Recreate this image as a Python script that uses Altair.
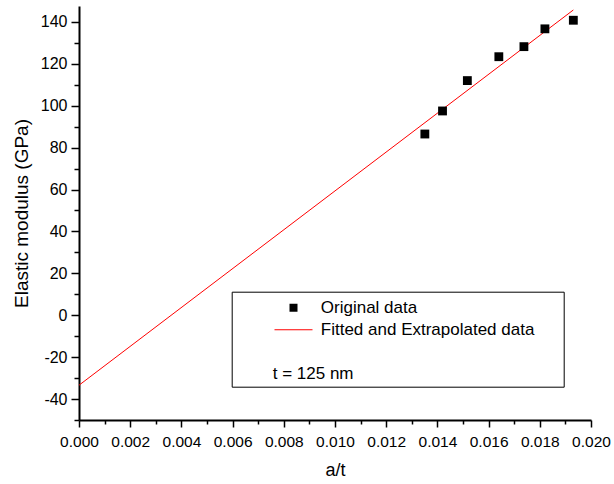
import altair as alt
import pandas as pd

# ---- data ----
x_data = [0.01351, 0.01420, 0.01517, 0.01640, 0.01738, 0.01820, 0.01931]
y_data = [86.5, 97.5, 112.0, 123.4, 128.2, 136.7, 140.8]
fit_x = [0.0, 0.01931]
fit_y = [-33.4, 145.7]
series_names = ["Original data", "Fitted and Extrapolated data"]
legend_note = "t = 125 nm"
x_ticks = [0.000, 0.001, 0.002, 0.003, 0.004, 0.005, 0.006, 0.007, 0.008, 0.009, 0.010,
           0.011, 0.012, 0.013, 0.014, 0.015, 0.016, 0.017, 0.018, 0.019, 0.020]
y_ticks = [-50, -40, -30, -20, -10, 0, 10, 20, 30, 40, 50, 60, 70, 80, 90, 100,
           110, 120, 130, 140]

FONT = "Liberation Sans"
BLANK = "\u2800"   # blank glyph that is not trimmed away

pts = pd.DataFrame({"x": x_data, "y": y_data, "series": series_names[0]})
fit = pd.DataFrame({"x": fit_x, "y": fit_y, "series": series_names[1]})

x_scale = alt.Scale(domain=[0, 0.02], nice=False, zero=False)
y_scale = alt.Scale(domain=[-50, 147.6], nice=False, zero=False)

x_major = "round(datum.value*1000) % 2 === 0"
x_axis = alt.Axis(
    values=x_ticks, tickCount=100, grid=False,
    labelExpr=f"{x_major} ? format(datum.value, '.3f') : ''",
    tickSize={"condition": {"test": x_major, "value": 7}, "value": 4},
    labelPadding=7, labelFontSize=15.5, titleFontSize=18, titlePadding=12,
    domainWidth=2, tickWidth=1.5, labelOverlap=False, labelFlush=False,
)
y_major = "datum.value % 20 === 0"
y_axis = alt.Axis(
    values=y_ticks, tickCount=100, grid=False,
    labelExpr=f"{y_major} ? '' + datum.value : ''",
    tickSize={"condition": {"test": y_major, "value": 8}, "value": 5},
    labelPadding=4, labelFontSize=16, titleFontSize=19, titlePadding=9,
    domainWidth=2, tickWidth=1.5, labelOverlap=False, labelFlush=False,
)

long_label = series_names[1]
leg = alt.Legend(
    orient="none", legendX=152.7, legendY=285.7,
    title=BLANK * 3 + legend_note, titleOrient="bottom", titleAnchor="start",
    titleFont=FONT, titleFontSize=17, titleFontWeight="normal", titleColor="black",
    titlePadding=24.9, titleLimit=0,
    labelFont=FONT, labelFontSize=17, labelColor="black", labelLimit=0,
    labelExpr=f"datum.label === '{long_label}' ? datum.label + '{BLANK * 2}' : datum.label",
    labelOffset=18.8, symbolOffset=48.3, symbolSize=64, symbolStrokeWidth=0,
    symbolOpacity=1, padding=5, rowPadding=0, clipHeight=22,
    strokeColor="black", fillColor="white",
)

line_symbol = "M-4.75,-0.13H4.75V0.13H-4.75Z"

line = alt.Chart(fit).mark_line(color="#ff0000", strokeWidth=1).encode(
    x=alt.X("x:Q", scale=x_scale, axis=x_axis, title="a/t"),
    y=alt.Y("y:Q", scale=y_scale, axis=y_axis, title="Elastic modulus (GPa)"),
)

points = alt.Chart(pts).mark_point(filled=True, size=78, opacity=1).encode(
    x=alt.X("x:Q", scale=x_scale, title="a/t"),
    y=alt.Y("y:Q", scale=y_scale, title="Elastic modulus (GPa)"),
    color=alt.Color("series:N",
                    scale=alt.Scale(domain=series_names, range=["#000000", "#ff0000"]),
                    legend=leg),
    shape=alt.Shape("series:N",
                    scale=alt.Scale(domain=series_names, range=["square", line_symbol]),
                    legend=leg),
)

chart = alt.layer(line, points).properties(
    width=512, height=414,
    autosize="none",
    padding={"left": 79, "top": 6, "right": 23, "bottom": 64},
    background="white",
).configure_view(stroke=None).configure_axis(
    domainColor="black", tickColor="black", labelColor="black", titleColor="black",
    labelFont=FONT, titleFont=FONT, titleFontWeight="normal", grid=False,
)

chart.save("out.html", embed_options={"renderer": "svg", "actions": False})
